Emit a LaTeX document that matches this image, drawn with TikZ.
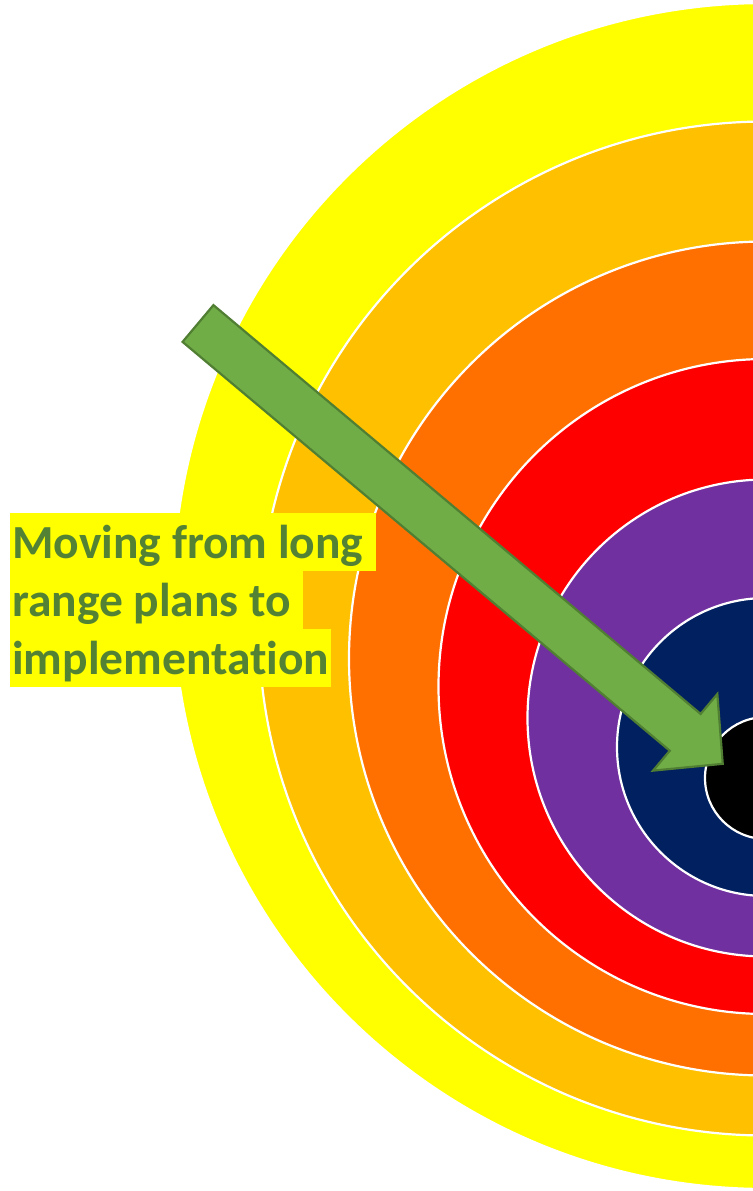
\documentclass[tikz,border=0pt]{standalone}
\usepackage{fontspec}
\setmainfont{Carlito}[Ligatures={NoCommon}]
\definecolor{cyellow}{HTML}{FFFF00}
\definecolor{camber}{HTML}{FFC000}
\definecolor{corange}{HTML}{FF7000}
\definecolor{cred}{HTML}{FF0000}
\definecolor{cpurple}{HTML}{7030A0}
\definecolor{cnavy}{HTML}{002060}
\definecolor{arrowfill}{HTML}{70AD47}
\definecolor{arrowline}{HTML}{507E32}
\definecolor{textgreen}{HTML}{548235}
\begin{document}
\begin{tikzpicture}[x=1bp,y=-1bp,
  ring/.style={draw=white, line width=2.2bp},
  bigarrow/.style={fill=arrowfill, draw=arrowline, line width=2.2bp, line join=miter},
  hl/.style={fill=cyellow, text=textgreen, anchor=base west,
    font=\fontsize{47.5bp}{58bp}\selectfont\bfseries,
    inner xsep=2bp, inner ysep=0pt, text height=45.2bp, text depth=12.8bp}]
\useasboundingbox (0,0) rectangle (753,1191);
\clip (0,0) rectangle (753,1191);
\fill[white] (0,0) rectangle (753,1191);
% target rings
\filldraw[ring, fill=cyellow] (766,596) circle [radius=593];
\filldraw[ring, fill=camber] (766,628.5) circle [radius=507];
\filldraw[ring, fill=corange] (766,658.5) circle [radius=417];
\filldraw[ring, fill=cred] (766,686.5) circle [radius=327.5];
\filldraw[ring, fill=cpurple] (766,718) circle [radius=238.5];
\filldraw[ring, fill=cnavy] (766,747) circle [radius=149];
\filldraw[ring, fill=black] (766,778) circle [radius=61];
% block arrow
\begin{scope}[shift={(198,323.5)}, rotate=-40]
\filldraw[bigarrow] (0,-24) -- (636,-24) -- (636,-50) -- (685,0) -- (636,50) -- (636,24) -- (0,24) -- cycle;
\end{scope}
% label
\node[hl] (l1) at (10,558) {Moving from long\kern11bp};
\node[hl] (l2) at (10,616) {range plans to\kern10bp};
\node[hl] (l3) at (10,674) {implementation};
\end{tikzpicture}
\end{document}
